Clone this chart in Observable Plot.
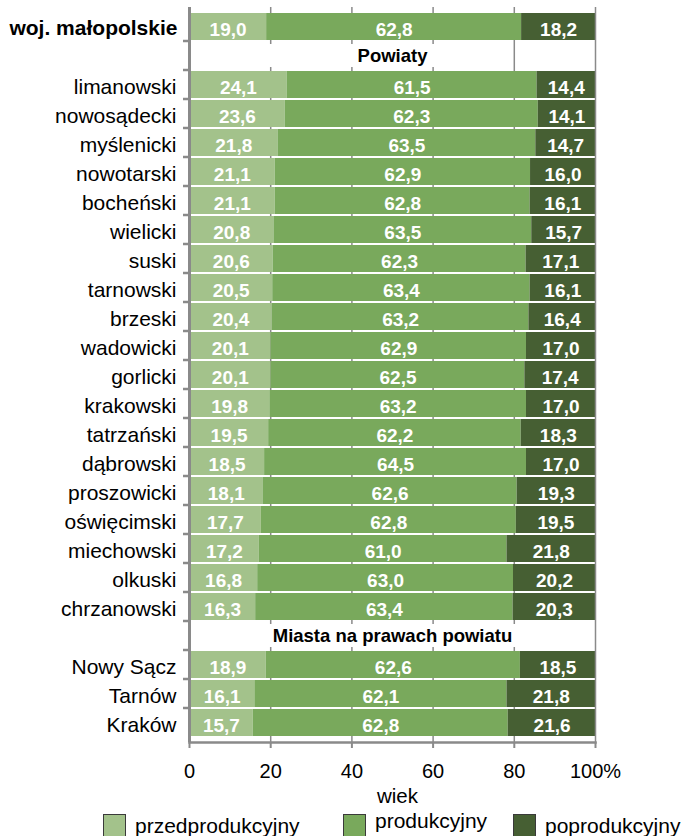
<!DOCTYPE html>
<html>
<head>
<meta charset="utf-8">
<script src="https://cdn.jsdelivr.net/npm/d3@7"></script>
<script src="https://cdn.jsdelivr.net/npm/@observablehq/plot@0.6"></script>
<style>
  body { margin: 0; background: #ffffff; }
  #chart svg { display: block; font-family: "Liberation Sans", Arial, sans-serif; }
</style>
</head>
<body>
<div id="chart"></div>
<script>
// ---- Data ----
const regionLabel = "woj. małopolskie";
const powiatyHeader = "Powiaty";
const miastaHeader = "Miasta na prawach powiatu";
const powiaty = ["limanowski", "nowosądecki", "myślenicki", "nowotarski", "bocheński", "wielicki", "suski",
  "tarnowski", "brzeski", "wadowicki", "gorlicki", "krakowski", "tatrzański", "dąbrowski", "proszowicki",
  "oświęcimski", "miechowski", "olkuski", "chrzanowski"];
const miasta = ["Nowy Sącz", "Tarnów", "Kraków"];
const dataNames = [regionLabel, ...powiaty, ...miasta];
const przedprodukcyjny = [19.0, 24.1, 23.6, 21.8, 21.1, 21.1, 20.8, 20.6, 20.5, 20.4, 20.1, 20.1, 19.8, 19.5, 18.5, 18.1, 17.7, 17.2, 16.8, 16.3, 18.9, 16.1, 15.7];
const produkcyjny      = [62.8, 61.5, 62.3, 63.5, 62.9, 62.8, 63.5, 62.3, 63.4, 63.2, 62.9, 62.5, 63.2, 62.2, 64.5, 62.6, 62.8, 61.0, 63.0, 63.4, 62.6, 62.1, 62.8];
const poprodukcyjny    = [18.2, 14.4, 14.1, 14.7, 16.0, 16.1, 15.7, 17.1, 16.1, 16.4, 17.0, 17.4, 17.0, 18.3, 17.0, 19.3, 19.5, 21.8, 20.2, 20.3, 18.5, 21.8, 21.6];
const groups = ["przedprodukcyjny", "produkcyjny", "poprodukcyjny"];
const groupColors = ["#a3c28b", "#79a95c", "#465f33"];
const xTicks = [0, 20, 40, 60, 80, 100];
const gridTicks = [20, 40, 60, 80];
const axisTitle = "wiek";

// ---- Derived ----
const yDomain = [regionLabel, powiatyHeader, ...powiaty, miastaHeader, ...miasta];
const seriesValues = [przedprodukcyjny, produkcyjny, poprodukcyjny];
const tidy = [];
dataNames.forEach((name, i) => {
  groups.forEach((g, j) => tidy.push({name, group: g, value: seriesValues[j][i]}));
});
const fmt = v => v.toFixed(1).replace(".", ",");
const gray = "#8a8a8a";
const W = 681, H = 836;
const mL = 189, mR = 86, mT = 7, mB = 94;

const chart = Plot.plot({
  width: W,
  height: H,
  marginLeft: mL,
  marginRight: mR,
  marginTop: mT,
  marginBottom: mB,
  style: {fontFamily: '"Liberation Sans", Arial, sans-serif', background: "white", overflow: "visible"},
  x: {domain: [0, 100], axis: null},
  y: {domain: yDomain, axis: null, paddingInner: 0.07, paddingOuter: 0.07},
  color: {domain: groups, range: groupColors},
  marks: [
    Plot.ruleX(gridTicks, {stroke: gray, strokeWidth: 1.5}),
    Plot.barX(tidy, Plot.stackX({y: "name", x: "value", fill: "group", order: groups})),
    // header rows (white label boxes)
    Plot.barX([powiatyHeader], {y: d => d, x1: 12, x2: 76, fill: "white", insetTop: 2, insetBottom: 2}),
    Plot.barX([miastaHeader], {y: d => d, x1: 5, x2: 97, fill: "white", insetTop: 2, insetBottom: 2}),
    Plot.text([powiatyHeader, miastaHeader], {y: d => d, x: 50, text: d => d, fontWeight: "bold", fontSize: 18.5, fill: "black"}),
    // value labels
    Plot.text(tidy, Plot.stackX({y: "name", x: "value", z: "group", order: groups, text: d => fmt(d.value),
      fill: "white", fontWeight: "bold", fontSize: 19, dy: 3})),
    // category labels
    Plot.text([regionLabel], {y: d => d, x: 0, text: d => d, textAnchor: "end", dx: -12, dy: 1, fontSize: 21, fontWeight: "bold", fill: "black"}),
    Plot.text([...powiaty, ...miasta], {y: d => d, x: 0, text: d => d, textAnchor: "end", dx: -13, dy: 2, fontSize: 21, fill: "black"}),
    // axes and borders
    Plot.ruleX([100], {stroke: gray, strokeWidth: 1.5}),
    Plot.ruleX([0], {stroke: gray, strokeWidth: 3}),
    Plot.frame({anchor: "bottom", stroke: gray, strokeWidth: 2.5}),
    Plot.axisX({ticks: xTicks, tickFormat: d => d === 100 ? "100%" : String(d), tickSize: 6, tickPadding: 15,
      fontSize: 20, stroke: gray, strokeWidth: 2, fill: "black", label: null}),
    Plot.text([axisTitle], {x: 50, frameAnchor: "bottom", dy: 60, text: d => d, fontSize: 20.5, fill: "black", dx: 5})
  ]
});

document.getElementById("chart").appendChild(chart);

// left axis ticks at row boundaries
const svg = d3.select(chart);
const ys = chart.scale("y");
const bw = ys.bandwidth;
const step = ys.step ?? (ys.apply(yDomain[1]) - ys.apply(yDomain[0]));
const gap = step - bw;
const tickG = svg.append("g").attr("stroke", gray).attr("stroke-width", 2.5);
yDomain.slice(1).forEach(k => {
  const yb = ys.apply(k) - gap / 2;
  tickG.append("line").attr("x1", mL - 6).attr("x2", mL).attr("y1", yb).attr("y2", yb);
});

// legend
const legendItems = [
  {x: 103, ty: 833},
  {x: 343, ty: 828},
  {x: 513, ty: 833}
];
const lg = svg.append("g").attr("text-anchor", "start");
groups.forEach((g, i) => {
  const it = legendItems[i];
  lg.append("rect").attr("x", it.x + 0.5).attr("y", 814.5).attr("width", 22).attr("height", 22)
    .attr("fill", groupColors[i]).attr("stroke", "#3a3a3a").attr("stroke-width", 1);
  lg.append("text").attr("x", it.x + 32).attr("y", it.ty).attr("font-size", 21)
    .attr("text-anchor", "start").attr("fill", "black").text(g);
});
</script>
</body>
</html>
